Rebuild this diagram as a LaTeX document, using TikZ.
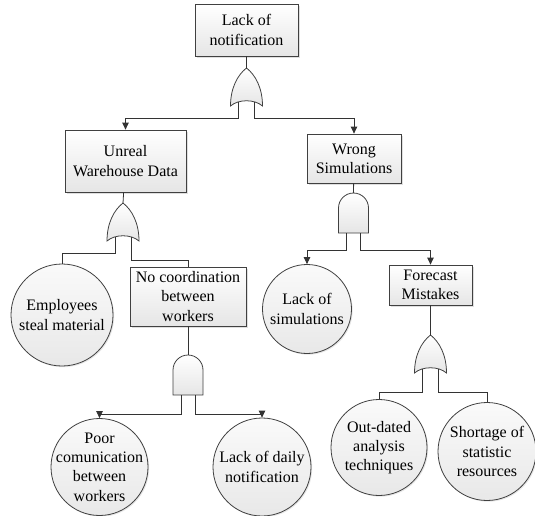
\documentclass[tikz,border=0pt]{standalone}
\usepackage{fontspec}
\setmainfont{Liberation Serif}
\usetikzlibrary{arrows.meta}
\usetikzlibrary{shadows}

\tikzset{
  evtext/.style={align=center, inner sep=0pt, font=\fontsize{16}{19.3}\selectfont},
  eventbox/.style={evtext, rectangle, draw=black!75, line width=.8pt,
    top color=white, bottom color=black!10,
    drop shadow={shadow xshift=1.5pt, shadow yshift=-1.5pt, opacity=.25}},
  basic/.style={evtext, circle, draw=black!75, line width=.8pt,
    top color=black!2, bottom color=black!9,
    drop shadow={shadow xshift=1.2pt, shadow yshift=-1.2pt, opacity=.2}},
  gatefill/.style={draw=black!75, line width=.8pt, top color=white, bottom color=black!10},
  wire/.style={draw=black!80, line width=.8pt},
  arr/.style={wire, -{Triangle[length=7pt, width=6.5pt]}},
  % or gate, origin at the apex
  orgate/.pic={
    \path[gatefill] (0,0) .. controls (9,7) and (16,20) .. (16,38)
      .. controls (8,31) and (-8,31) .. (-16,38)
      .. controls (-16,20) and (-9,7) .. (0,0) -- cycle;
    \coordinate (-out) at (0,0);
    \coordinate (-in1) at (-8,34);
    \coordinate (-in2) at (8,34);
  },
  % and gate, origin at the top of the dome
  andgate/.pic={
    \path[gatefill] (-15,40) -- (-15,15) .. controls (-15,6.7) and (-8.3,0) .. (0,0)
      .. controls (8.3,0) and (15,6.7) .. (15,15) -- (15,40) -- cycle;
    \coordinate (-out) at (0,0);
    \coordinate (-in1) at (-7,40);
    \coordinate (-in2) at (7,40);
  }
}

\begin{document}
\begin{tikzpicture}[x=1pt, y=-1pt]
\useasboundingbox (0,0) rectangle (535,515);

% events
\node[eventbox, minimum width=103, minimum height=52] (notif) at (246.5,30) {Lack of\\notification};
\node[eventbox, minimum width=121, minimum height=62] (unreal) at (125.5,161) {Unreal\\Warehouse Data};
\node[eventbox, minimum width=94, minimum height=49] (wrong) at (354,158.5) {Wrong\\Simulations};
\node[eventbox, minimum width=116, minimum height=59] (nocoord) at (188,296.5) {No coordination\\between\\workers};
\node[eventbox, minimum width=83, minimum height=40] (forecast) at (430.5,285) {Forecast\\Mistakes};

% basic causes
\node[basic, minimum size=102] (steal) at (62,315) {Employees\\steal material};
\node[basic, minimum size=89] (lacksim) at (307,309) {Lack of\\simulations};
\node[basic, minimum size=97, inner sep=-12pt] (poor) at (99.5,467) {Poor\\comunication\\between\\workers};
\node[basic, minimum size=98] (daily) at (262,467) {Lack of daily\\notification};
\node[basic, minimum size=96] (outdated) at (379,447.5) {Out-dated\\analysis\\techniques};
\node[basic, minimum size=98] (shortage) at (487,451.5) {Shortage of\\statistic\\resources};

% gates
\pic (g1) at (246.5,68) {orgate};
\pic (g2) at (123,203) {orgate};
\pic (g3) at (353.5,193) {andgate};
\pic (g4) at (188,355) {andgate};
\pic (g5) at (430.5,335) {orgate};

% stems
\draw[wire] (notif) -- (g1-out);
\draw[wire] (unreal) -- (g2-out);
\draw[wire] (wrong) -- (g3-out);
\draw[wire] (nocoord) -- (g4-out);
\draw[wire] (forecast) -- (g5-out);

% branches
\draw[arr] (g1-in1) -- ++(0,16) -| (unreal);
\draw[arr] (g1-in2) -- ++(0,16) -| (wrong);
\draw[wire] (g2-in1) -- ++(0,16) -| (steal);
\draw[wire] (g2-in2) -- ++(0,23) -| (nocoord);
\draw[arr] (g3-in1) -- ++(0,17) -| (lacksim);
\draw[arr] (g3-in2) -- ++(0,17) -| (forecast);
\draw[arr] (g4-in1) -- ++(0,19) -| (poor);
\draw[arr] (g4-in2) -- ++(0,19) -| (daily);
\draw[wire] (g5-in1) -- ++(0,23) -| (outdated);
\draw[wire] (g5-in2) -- ++(0,23) -| (shortage);
\end{tikzpicture}
\end{document}
